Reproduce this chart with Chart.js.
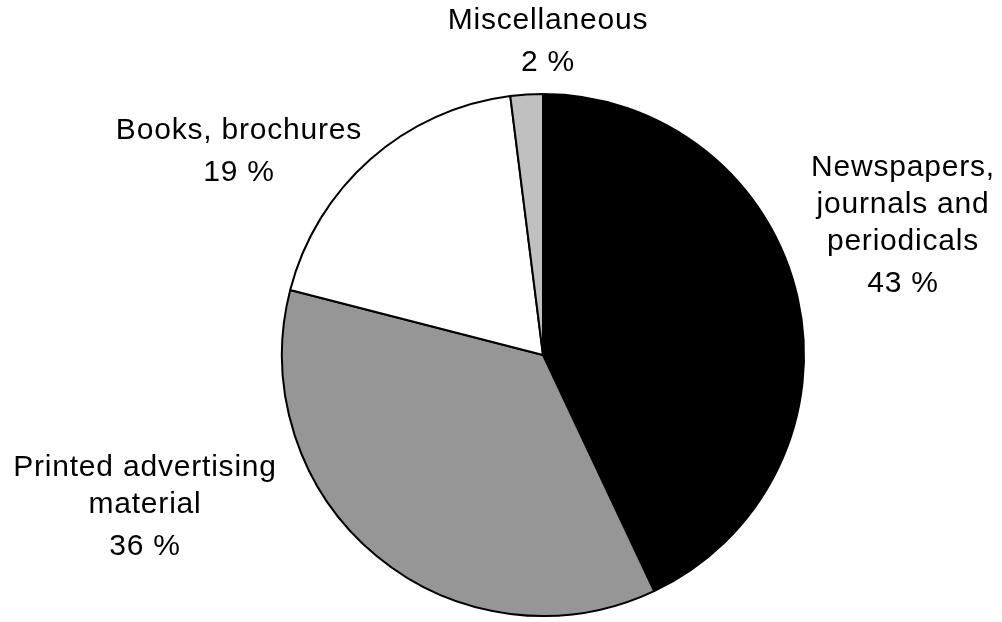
<!DOCTYPE html>
<html>
<head>
<meta charset="utf-8">
<title>Printed products</title>
<script src="https://cdn.jsdelivr.net/npm/chart.js@4.4.1/dist/chart.umd.min.js"></script>
<style>
    html, body { margin: 0; padding: 0; background: #ffffff; }
    #wrap { width: 1002px; height: 622px; }
</style>
</head>
<body>
<div id="wrap"><canvas id="pieChart" width="1002" height="622"></canvas></div>
<script>
// Share of printed products, clockwise from 12 o'clock
const categories = [
    ['Newspapers,', 'journals and', 'periodicals'],
    ['Printed advertising', 'material'],
    ['Books, brochures'],
    ['Miscellaneous']
];
const shares = [43, 36, 19, 2];
const sliceColors = ['#000000', '#969696', '#ffffff', '#c0c0c0'];

// Where each label block sits, relative to the pie centre (x = block centre, y = first baseline)
const labelAnchors = [
    { dx: 360, dy: -179 },
    { dx: -398, dy: 121 },
    { dx: -304, dy: -216 },
    { dx: 5, dy: -326 }
];

const outsideLabels = {
    id: 'outsideLabels',
    afterDatasetsDraw(chart) {
        const ctx = chart.ctx;
        const meta = chart.getDatasetMeta(0);
        ctx.save();
        ctx.fillStyle = '#000000';
        ctx.font = '30px "Liberation Sans", Arial, sans-serif';
        ctx.letterSpacing = '0.8px';
        ctx.textAlign = 'center';
        ctx.textBaseline = 'alphabetic';
        meta.data.forEach((arc, i) => {
            const a = labelAnchors[i];
            const x = arc.x + a.dx;
            let y = arc.y + a.dy;
            const lines = categories[i];
            lines.forEach((line, j) => {
                ctx.fillText(line, x, y + j * 37);
            });
            y += (lines.length - 1) * 37 + 42;
            ctx.fillText(shares[i] + ' %', x, y);
        });
        ctx.restore();
    }
};

new Chart(document.getElementById('pieChart').getContext('2d'), {
    type: 'pie',
    data: {
        labels: categories.map(c => c.join(' ')),
        datasets: [{
            data: shares,
            backgroundColor: sliceColors,
            borderColor: '#000000',
            borderWidth: 2
        }]
    },
    options: {
        responsive: false,
        animation: false,
        devicePixelRatio: 1,
        layout: {
            padding: { left: 281, right: 197, top: 93, bottom: 5 }
        },
        plugins: {
            legend: { display: false },
            tooltip: { enabled: false }
        }
    },
    plugins: [outsideLabels]
});
</script>
</body>
</html>
